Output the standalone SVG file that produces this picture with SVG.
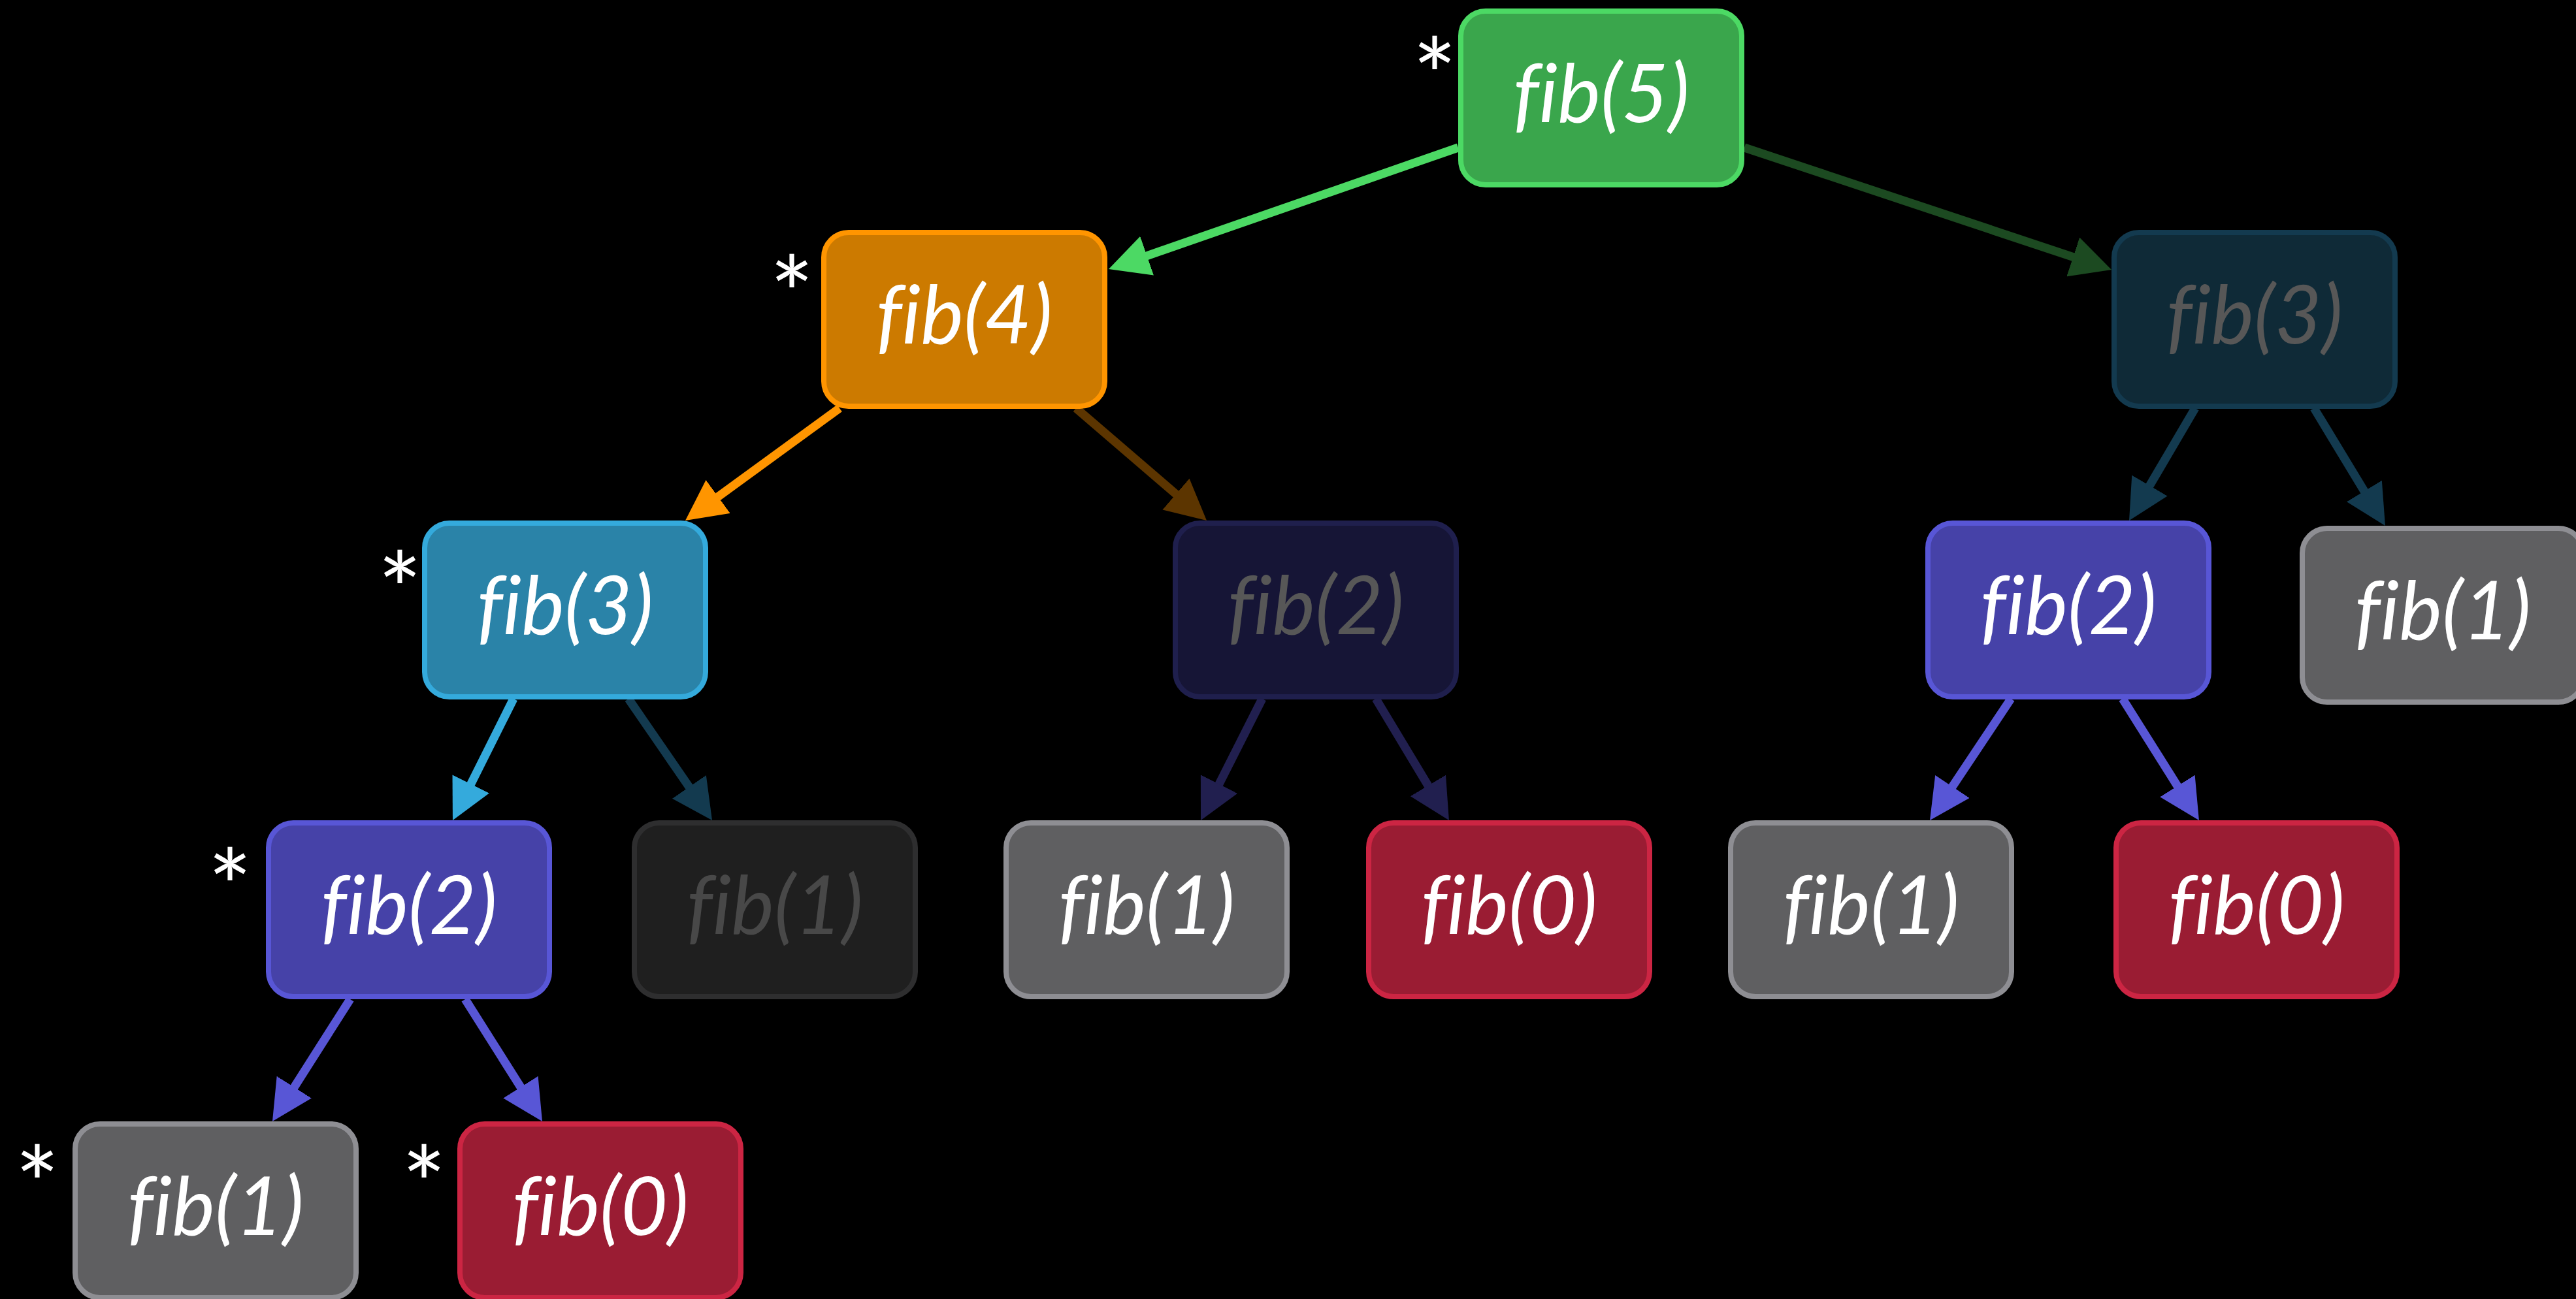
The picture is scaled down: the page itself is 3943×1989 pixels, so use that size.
<svg xmlns="http://www.w3.org/2000/svg" width="3943" height="1989" viewBox="0 0 3943 1989">
<style>
.box{stroke-width:8}
.lbl{font-family:Lato,"Open Sans","Liberation Sans",sans-serif;font-style:italic;font-size:124px;text-anchor:middle;fill:#ffffff;font-variant-ligatures:none;font-feature-settings:"liga" 0}
.ast{font-family:Lato,"Open Sans","Liberation Sans",sans-serif;font-size:160px;text-anchor:middle;fill:#ffffff}
.c{fill:none;stroke-width:13}
.green .box{fill:#3aa64c;stroke:#4cd964}
.orange .box{fill:#cc7a00;stroke:#ff9500}
.cyan .box{fill:#2a83a8;stroke:#34aadc}
.purple .box{fill:#4642a8;stroke:#5856d6}
.gray .box{fill:#5f5f61;stroke:#8e8e93}
.red .box{fill:#9a1c33;stroke:#cc2543}
.dteal .box{fill:#0f2a37;stroke:#133a4f}
.dnavy .box{fill:#161536;stroke:#1f1f4d}
.dgray .box{fill:#1f1f1f;stroke:#2e2e2f}
.dteal .lbl,.dnavy .lbl{fill:#575757}
.dgray .lbl{fill:#484848}
</style>
<defs>
<marker id="m-green" viewBox="0 0 62 63" markerWidth="62" markerHeight="63" markerUnits="userSpaceOnUse" refX="2" refY="31.5" orient="auto"><path d="M0,0 L62,31.5 L0,63 z" fill="#4cd964"/></marker>
<marker id="m-dgreen" viewBox="0 0 62 63" markerWidth="62" markerHeight="63" markerUnits="userSpaceOnUse" refX="2" refY="31.5" orient="auto"><path d="M0,0 L62,31.5 L0,63 z" fill="#1c4a21"/></marker>
<marker id="m-orange" viewBox="0 0 62 63" markerWidth="62" markerHeight="63" markerUnits="userSpaceOnUse" refX="2" refY="31.5" orient="auto"><path d="M0,0 L62,31.5 L0,63 z" fill="#ff9500"/></marker>
<marker id="m-brown" viewBox="0 0 62 63" markerWidth="62" markerHeight="63" markerUnits="userSpaceOnUse" refX="2" refY="31.5" orient="auto"><path d="M0,0 L62,31.5 L0,63 z" fill="#5c3500"/></marker>
<marker id="m-cyan" viewBox="0 0 62 63" markerWidth="62" markerHeight="63" markerUnits="userSpaceOnUse" refX="2" refY="31.5" orient="auto"><path d="M0,0 L62,31.5 L0,63 z" fill="#34aadc"/></marker>
<marker id="m-teal" viewBox="0 0 62 63" markerWidth="62" markerHeight="63" markerUnits="userSpaceOnUse" refX="2" refY="31.5" orient="auto"><path d="M0,0 L62,31.5 L0,63 z" fill="#133a4f"/></marker>
<marker id="m-navy" viewBox="0 0 62 63" markerWidth="62" markerHeight="63" markerUnits="userSpaceOnUse" refX="2" refY="31.5" orient="auto"><path d="M0,0 L62,31.5 L0,63 z" fill="#211f4f"/></marker>
<marker id="m-purple" viewBox="0 0 62 63" markerWidth="62" markerHeight="63" markerUnits="userSpaceOnUse" refX="2" refY="31.5" orient="auto"><path d="M0,0 L62,31.5 L0,63 z" fill="#5856d6"/></marker>
</defs>
<rect x="0" y="0" width="3943" height="1989" fill="#000000"/>
<g id="connectors">
<path class="c" d="M2232,226 L1753.7,392.3" stroke="#4cd964" marker-end="url(#m-green)"/>
<path class="c" d="M2670,226 L3175.1,394.1" stroke="#1c4a21" marker-end="url(#m-dgreen)"/>
<path class="c" d="M1285,625 L1097.5,761.7" stroke="#ff9500" marker-end="url(#m-orange)"/>
<path class="c" d="M1647,625 L1801.5,757.9" stroke="#5c3500" marker-end="url(#m-brown)"/>
<path class="c" d="M786,1070 L719.8,1202.3" stroke="#34aadc" marker-end="url(#m-cyan)"/>
<path class="c" d="M962,1070 L1056,1206.6" stroke="#133a4f" marker-end="url(#m-teal)"/>
<path class="c" d="M1932,1070 L1865.1,1202.4" stroke="#211f4f" marker-end="url(#m-navy)"/>
<path class="c" d="M2106,1070 L2187,1204.6" stroke="#211f4f" marker-end="url(#m-navy)"/>
<path class="c" d="M3360,625 L3289.4,745.3" stroke="#133a4f" marker-end="url(#m-teal)"/>
<path class="c" d="M3542,625 L3619.9,753.7" stroke="#133a4f" marker-end="url(#m-teal)"/>
<path class="c" d="M3078,1070 L2987.3,1206.1" stroke="#5856d6" marker-end="url(#m-purple)"/>
<path class="c" d="M3249,1070 L3334,1205.2" stroke="#5856d6" marker-end="url(#m-purple)"/>
<path class="c" d="M536,1530 L449.2,1666.4" stroke="#5856d6" marker-end="url(#m-purple)"/>
<path class="c" d="M712,1530 L798,1666.3" stroke="#5856d6" marker-end="url(#m-purple)"/>
</g>
<g id="fib5" class="green"><rect class="box" x="2236" y="17" width="430" height="266" rx="38"/><text class="lbl" x="2451" y="187">fib(5)</text><text class="ast" x="2196" y="175">*</text></g>
<g id="fib4" class="orange"><rect class="box" x="1261" y="356" width="430" height="266" rx="38"/><text class="lbl" x="1476" y="526">fib(4)</text><text class="ast" x="1212" y="509">*</text></g>
<g id="fib3-right" class="dteal"><rect class="box" x="3236" y="356" width="430" height="266" rx="38"/><text class="lbl" x="3451" y="526">fib(3)</text></g>
<g id="fib3-left" class="cyan"><rect class="box" x="650" y="801" width="430" height="266" rx="38"/><text class="lbl" x="865" y="971">fib(3)</text><text class="ast" x="612" y="962">*</text></g>
<g id="fib2-mid" class="dnavy"><rect class="box" x="1799" y="801" width="430" height="266" rx="38"/><text class="lbl" x="2014" y="971">fib(2)</text></g>
<g id="fib2-right" class="purple"><rect class="box" x="2951" y="801" width="430" height="266" rx="38"/><text class="lbl" x="3166" y="971">fib(2)</text></g>
<g id="fib1-right" class="gray"><rect class="box" x="3524" y="809" width="430" height="266" rx="38"/><text class="lbl" x="3739" y="979">fib(1)</text></g>
<g id="fib2-left" class="purple"><rect class="box" x="411" y="1260" width="430" height="266" rx="38"/><text class="lbl" x="626" y="1430">fib(2)</text><text class="ast" x="352" y="1417">*</text></g>
<g id="fib1-dim" class="dgray"><rect class="box" x="971" y="1260" width="430" height="266" rx="38"/><text class="lbl" x="1186" y="1430">fib(1)</text></g>
<g id="fib1-mid" class="gray"><rect class="box" x="1540" y="1260" width="430" height="266" rx="38"/><text class="lbl" x="1755" y="1430">fib(1)</text></g>
<g id="fib0-mid" class="red"><rect class="box" x="2095" y="1260" width="430" height="266" rx="38"/><text class="lbl" x="2310" y="1430">fib(0)</text></g>
<g id="fib1-r" class="gray"><rect class="box" x="2649" y="1260" width="430" height="266" rx="38"/><text class="lbl" x="2864" y="1430">fib(1)</text></g>
<g id="fib0-r" class="red"><rect class="box" x="3239" y="1260" width="430" height="266" rx="38"/><text class="lbl" x="3454" y="1430">fib(0)</text></g>
<g id="fib1-bottom" class="gray"><rect class="box" x="115" y="1721" width="430" height="266" rx="38"/><text class="lbl" x="330" y="1891">fib(1)</text><text class="ast" x="57" y="1872">*</text></g>
<g id="fib0-bottom" class="red"><rect class="box" x="704" y="1721" width="430" height="266" rx="38"/><text class="lbl" x="919" y="1891">fib(0)</text><text class="ast" x="649" y="1872">*</text></g>
</svg>
